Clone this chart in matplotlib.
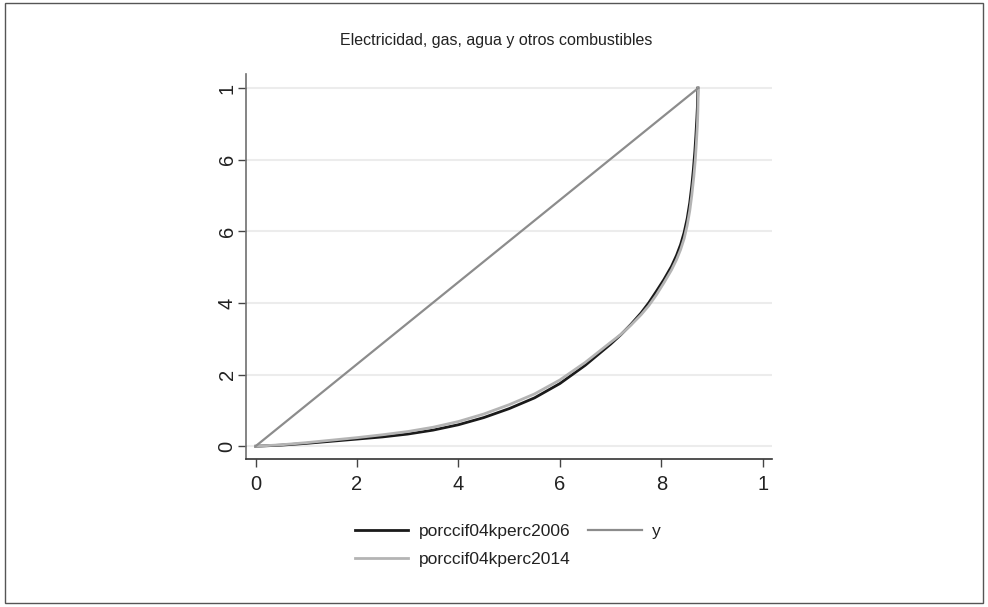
import matplotlib.pyplot as plt
from matplotlib.patches import Rectangle

# Lorenz curves: cumulative share of population (x) vs cumulative share of spending (y)
x_2006 = [0.0, 0.05, 0.10, 0.15, 0.20, 0.25, 0.30, 0.35, 0.40, 0.45, 0.50, 0.55,
          0.60, 0.65, 0.70, 0.72, 0.74, 0.76, 0.775, 0.79, 0.805, 0.82, 0.83, 0.838,
          0.845, 0.851, 0.856, 0.860, 0.863, 0.866, 0.868, 0.870, 0.871, 0.872]
y_2006 = [0.0, 0.003, 0.008, 0.014, 0.020, 0.026, 0.034, 0.045, 0.060, 0.080, 0.105,
          0.135, 0.175, 0.226, 0.285, 0.311, 0.340, 0.372, 0.400, 0.432, 0.465,
          0.502, 0.533, 0.563, 0.597, 0.636, 0.680, 0.727, 0.770, 0.822, 0.865,
          0.915, 0.945, 1.0]

x_2014 = [0.0, 0.05, 0.10, 0.15, 0.20, 0.25, 0.30, 0.35, 0.40, 0.45, 0.50, 0.55,
          0.60, 0.65, 0.70, 0.72, 0.74, 0.76, 0.775, 0.79, 0.805, 0.82, 0.83, 0.838,
          0.845, 0.851, 0.856, 0.860, 0.864, 0.867, 0.869, 0.871, 0.872, 0.873]
y_2014 = [0.0, 0.004, 0.010, 0.017, 0.024, 0.032, 0.041, 0.053, 0.069, 0.090, 0.116,
          0.146, 0.185, 0.234, 0.290, 0.312, 0.338, 0.367, 0.392, 0.422, 0.456,
          0.492, 0.521, 0.549, 0.580, 0.617, 0.657, 0.700, 0.752, 0.800, 0.845,
          0.895, 0.935, 1.0]

# line of equality
x_eq = [0.0, 0.873]
y_eq = [0.0, 1.0]

tick_pos = [0, 0.2, 0.4, 0.6, 0.8, 1.0]
xtick_labels = ["0", "2", "4", "6", "8", "1"]
ytick_labels = ["0", "2", "4", "6", "6", "1"]

plt.rcParams['font.family'] = ['Liberation Sans', 'DejaVu Sans']

fig = plt.figure(figsize=(9.88, 6.07), dpi=100)
ax = fig.add_axes([0.2494, 0.2430, 0.5319, 0.6357])

l1, = ax.plot(x_2006, y_2006, color='#1a1a1a', lw=2.0, label='porccif04kperc2006')
l2, = ax.plot(x_2014, y_2014, color='#b4b4b4', lw=2.0, label='porccif04kperc2014')
l3, = ax.plot(x_eq, y_eq, color='#8c8c8c', lw=1.6, label='y')

ax.set_xlim(-0.018, 1.018)
ax.set_ylim(-0.037, 1.04)

ax.set_xticks(tick_pos)
ax.set_xticklabels(xtick_labels)
ax.set_yticks(tick_pos)
ax.set_yticklabels(ytick_labels, rotation=90, va='center')
ax.tick_params(axis='both', direction='out', length=6, width=1, colors='#444444',
               labelsize=14.5, labelcolor='#222222')
ax.tick_params(axis='x', pad=5)
ax.tick_params(axis='y', pad=1)

ax.grid(axis='y', color='#ececec', lw=1.5)
ax.set_axisbelow(True)
for s in ['top', 'right']:
    ax.spines[s].set_visible(False)
ax.spines['left'].set_color('#707070')
ax.spines['bottom'].set_color('#333333')
ax.spines['left'].set_linewidth(1.2)
ax.spines['bottom'].set_linewidth(1.2)

fig.text(0.502, 0.934, 'Electricidad, gas, agua y otros combustibles',
         ha='center', va='center', fontsize=11.5, color='#222222')

fig.legend(handles=[l1, l2, l3], loc='upper center', bbox_to_anchor=(0.514, 0.162),
           ncol=2, frameon=False, fontsize=12.5, handlelength=3.1,
           columnspacing=1.0, labelspacing=0.7, handletextpad=0.6,
           labelcolor='#222222')

# thin frame around the whole graph region
fig.patches.append(Rectangle((0.005, 0.006), 0.99, 0.989, transform=fig.transFigure,
                             fill=False, edgecolor='#555555', lw=1.0))

fig.savefig('out.png', dpi=100, facecolor='white')
